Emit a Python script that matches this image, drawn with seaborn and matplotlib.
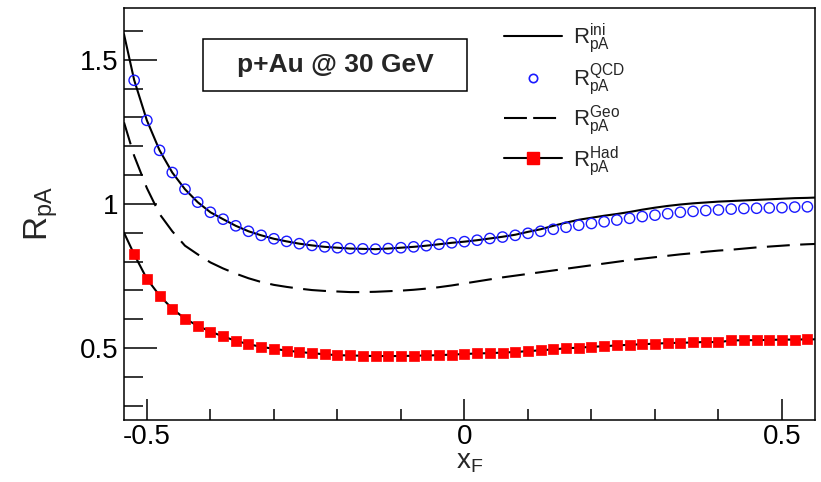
import numpy as np
import pandas as pd
import matplotlib
matplotlib.use("Agg")
import matplotlib.pyplot as plt
from matplotlib.lines import Line2D
from matplotlib.patches import Rectangle
from matplotlib.ticker import MultipleLocator
import seaborn as sns

# ---- data -----------------------------------------------------------------
x_grid = [-0.52, -0.50, -0.48, -0.46, -0.44, -0.42, -0.40, -0.38, -0.36, -0.34,
          -0.32, -0.30, -0.28, -0.26, -0.24, -0.22, -0.20, -0.18, -0.16, -0.14,
          -0.12, -0.10, -0.08, -0.06, -0.04, -0.02, 0.00, 0.02, 0.04, 0.06,
          0.08, 0.10, 0.12, 0.14, 0.16, 0.18, 0.20, 0.22, 0.24, 0.26,
          0.28, 0.30, 0.32, 0.34, 0.36, 0.38, 0.40, 0.42, 0.44, 0.46,
          0.48, 0.50, 0.52, 0.54]

# curve end points (x range of the calculation)
x_lo, x_hi = -0.536, 0.552

r_ini = [1.430, 1.290, 1.186, 1.109, 1.051, 1.006, 0.971, 0.947, 0.924, 0.905,
         0.891, 0.879, 0.870, 0.862, 0.856, 0.851, 0.848, 0.845, 0.844, 0.843,
         0.845, 0.848, 0.851, 0.855, 0.860, 0.865, 0.869, 0.874, 0.880, 0.886,
         0.893, 0.903, 0.912, 0.924, 0.935, 0.945, 0.952, 0.959, 0.965, 0.972,
         0.980, 0.987, 0.993, 0.998, 1.002, 1.005, 1.008, 1.010, 1.012, 1.014,
         1.016, 1.018, 1.020, 1.021]
r_ini_ends = [1.589, 1.022]

r_qcd = [1.429, 1.290, 1.186, 1.109, 1.051, 1.006, 0.971, 0.947, 0.924, 0.905,
         0.891, 0.879, 0.870, 0.862, 0.856, 0.851, 0.848, 0.845, 0.844, 0.843,
         0.845, 0.848, 0.851, 0.855, 0.860, 0.865, 0.869, 0.874, 0.880, 0.885,
         0.891, 0.898, 0.905, 0.912, 0.919, 0.926, 0.932, 0.938, 0.944, 0.950,
         0.956, 0.961, 0.966, 0.971, 0.974, 0.977, 0.979, 0.982, 0.984, 0.985,
         0.986, 0.987, 0.989, 0.990]

r_geo = [1.167, 1.055, 0.965, 0.905, 0.855, 0.825, 0.797, 0.776, 0.758, 0.742,
         0.729, 0.719, 0.712, 0.706, 0.701, 0.698, 0.696, 0.694, 0.694, 0.695,
         0.697, 0.699, 0.702, 0.706, 0.711, 0.717, 0.724, 0.731, 0.738, 0.745,
         0.751, 0.757, 0.763, 0.769, 0.775, 0.781, 0.787, 0.793, 0.799, 0.805,
         0.810, 0.815, 0.820, 0.825, 0.829, 0.834, 0.838, 0.841, 0.845, 0.849,
         0.852, 0.855, 0.858, 0.860]
r_geo_ends = [1.283, 0.861]

r_had = [0.825, 0.740, 0.682, 0.636, 0.602, 0.577, 0.557, 0.540, 0.525, 0.513,
         0.504, 0.497, 0.491, 0.486, 0.482, 0.478, 0.475, 0.474, 0.473, 0.472,
         0.472, 0.472, 0.473, 0.474, 0.475, 0.477, 0.479, 0.481, 0.482, 0.484,
         0.486, 0.489, 0.492, 0.495, 0.499, 0.501, 0.504, 0.506, 0.509, 0.511,
         0.513, 0.515, 0.517, 0.518, 0.519, 0.521, 0.520, 0.526, 0.527, 0.527,
         0.528, 0.529, 0.529, 0.530]
r_had_ends = [0.900, 0.530]

x_ticks = [-0.5, 0.0, 0.5]
x_tick_labels = ["-0.5", "0", "0.5"]
y_ticks = [0.5, 1.0, 1.5]
y_tick_labels = ["0.5", "1", "1.5"]

legend_labels = [r"$R^{ini}_{pA}$", r"$R^{QCD}_{pA}$",
                 r"$R^{Geo}_{pA}$", r"$R^{Had}_{pA}$"]
system_label = "p+Au @ 30 GeV"


def full_curve(vals, ends):
    xs = [x_lo] + x_grid + [x_hi]
    ys = [ends[0]] + vals + [ends[1]]
    return pd.DataFrame({"x": xs, "y": ys})


# ---- style ----------------------------------------------------------------
sns.set_style("ticks")
plt.rcParams["font.family"] = ["Liberation Sans", "DejaVu Sans"]
plt.rcParams["mathtext.default"] = "regular"

fig = plt.figure(figsize=(8.21, 4.82), dpi=100)
ax = fig.add_axes([124 / 821, 1 - 420 / 482, 691 / 821, 412 / 482])

lw = 1.5
blue = "#1a1aff"
red = "#ff0000"

# R_ini: solid line
sns.lineplot(data=full_curve(r_ini, r_ini_ends), x="x", y="y", ax=ax,
             color="black", lw=lw, sort=False, estimator=None)
# R_geo: long dashes
sns.lineplot(data=full_curve(r_geo, r_geo_ends), x="x", y="y", ax=ax,
             color="black", lw=lw, sort=False, estimator=None)
ax.lines[-1].set_dashes([11, 5])
# R_had: solid line with red squares
sns.lineplot(data=full_curve(r_had, r_had_ends), x="x", y="y", ax=ax,
             color="black", lw=lw, sort=False, estimator=None)
sns.scatterplot(x=x_grid, y=r_had, ax=ax, marker="s", s=42, color=red,
                edgecolor=red, linewidth=0.5, zorder=3)
# R_qcd: open blue circles
sns.scatterplot(x=x_grid, y=r_qcd, ax=ax, marker="o", s=55,
                facecolor="none", edgecolor=blue, linewidth=1.0, zorder=4)

# ---- axes -----------------------------------------------------------------
ax.set_xlim(x_lo, x_hi)
ax.set_ylim(0.25, 1.68)
ax.set_xticks(x_ticks)
ax.set_xticklabels(x_tick_labels)
ax.set_yticks(y_ticks)
ax.set_yticklabels(y_tick_labels)
ax.xaxis.set_minor_locator(MultipleLocator(0.1))
ax.yaxis.set_minor_locator(MultipleLocator(0.1))
ax.tick_params(axis="both", which="both", direction="in", width=1.1,
               colors="black", labelsize=20, top=False, right=False)
ax.tick_params(axis="x", which="major", length=15, pad=3)
ax.tick_params(axis="x", which="minor", length=7.7)
ax.tick_params(axis="y", which="major", length=24, pad=4)
ax.tick_params(axis="y", which="minor", length=13.7)
for sp in ax.spines.values():
    sp.set_linewidth(1.1)
    sp.set_color("black")

ax.set_xlabel(r"$x_F$", fontsize=20, labelpad=-1)
ax.set_ylabel(r"$R_{pA}$", fontsize=24, labelpad=14)

# ---- system label box -----------------------------------------------------
ax.add_patch(Rectangle((0.1143, 0.7985), 0.3821, 0.1263, transform=ax.transAxes,
                       facecolor="white", edgecolor="black", lw=1.1, zorder=5))
ax.text(0.3054, 0.8617, system_label, transform=ax.transAxes, ha="center",
        va="center", fontsize=19, fontweight="bold", zorder=6)

# ---- legend ---------------------------------------------------------------
handles = [
    Line2D([], [], color="black", lw=lw),
    Line2D([], [], ls="none", marker="o", ms=6, mfc="none", mec=blue, mew=1.2),
    Line2D([], [], color="black", lw=lw, dashes=[11, 3]),
    Line2D([], [], color="black", lw=lw, marker="s", ms=8, mfc=red, mec=red),
]
ax.legend(handles, legend_labels, loc="upper left",
          bbox_to_anchor=(0.540, 0.983), frameon=False, fontsize=16,
          handlelength=2.6, handletextpad=0.5, labelspacing=0.26,
          borderaxespad=0.0, borderpad=0.3)

fig.savefig("out.png", dpi=100)
